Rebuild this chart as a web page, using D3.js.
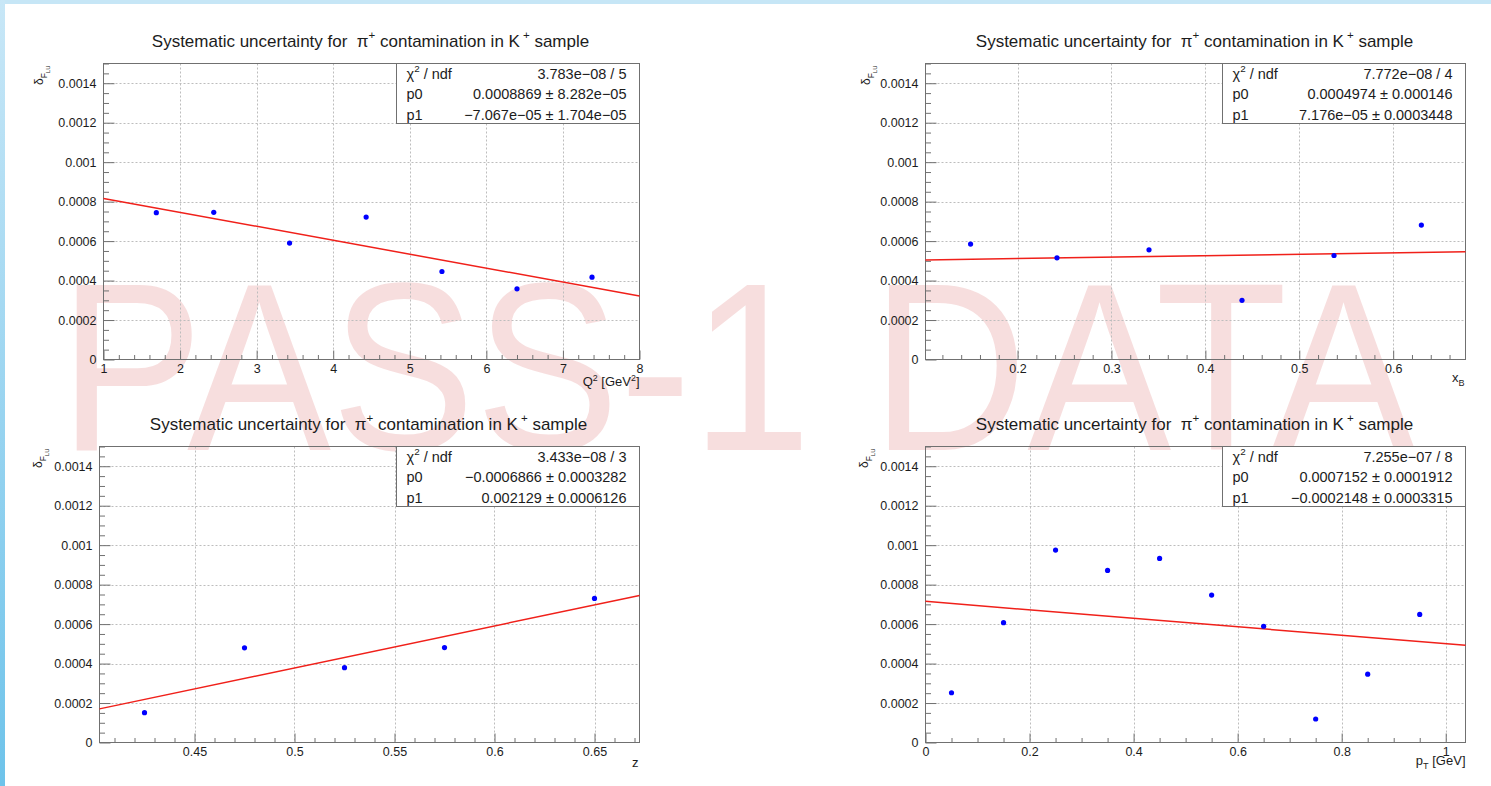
<!DOCTYPE html>
<html>
<head>
<meta charset="utf-8">
<script src="https://cdn.jsdelivr.net/npm/d3@7"></script>
<style>
  html, body { margin: 0; padding: 0; background: #ffffff; overflow: hidden; }
  svg { display: block; }
</style>
</head>
<body>
<svg id="canvas" width="1491" height="786"></svg>
<script>
// ---- data: delta_FLU systematic vs. each kinematic variable ----
const q2X = [1.69, 2.44, 3.43, 4.43, 5.42, 6.40, 7.38];
const q2Y = [0.000744, 0.000746, 0.000590, 0.000722, 0.000446, 0.000358, 0.000417];

const xbX = [0.150, 0.242, 0.340, 0.439, 0.537, 0.630];
const xbY = [0.000585, 0.000515, 0.000556, 0.000300, 0.000527, 0.000681];

const zX = [0.425, 0.475, 0.525, 0.575, 0.650];
const zY = [0.000151, 0.000480, 0.000379, 0.000481, 0.000730];

const ptX = [0.05, 0.15, 0.25, 0.35, 0.45, 0.55, 0.65, 0.75, 0.85, 0.95];
const ptY = [0.000252, 0.000607, 0.000975, 0.000872, 0.000933, 0.000747, 0.000589, 0.000119, 0.000346, 0.000649];

// linear fit results (pol1: p0 + p1*x), one entry per panel
const fitP0 = [0.0008869, 0.0004974, -0.0006866, 0.0007152];
const fitP1 = [-7.067e-05, 7.176e-05, 0.002129, -0.0002148];
const statChi2 = ['3.783e\u221208 / 5', '7.772e\u221208 / 4', '3.433e\u221208 / 3', '7.255e\u221207 / 8'];
const statP0 = ['0.0008869 \u00b1 8.282e\u221205', '0.0004974 \u00b1 0.000146',
                '\u22120.0006866 \u00b1 0.0003282', '0.0007152 \u00b1 0.0001912'];
const statP1 = ['\u22127.067e\u221205 \u00b1 1.704e\u221205', '7.176e\u221205 \u00b1 0.0003448',
                '0.002129 \u00b1 0.0006126', '\u22120.0002148 \u00b1 0.0003315'];

// axis ranges and ticks
const yRange = [0, 0.0015];
const yTicks = [0, 0.0002, 0.0004, 0.0006, 0.0008, 0.001, 0.0012, 0.0014];
const yTickLabels = ['0', '0.0002', '0.0004', '0.0006', '0.0008', '0.001', '0.0012', '0.0014'];
const q2Range = [1, 8];
const q2Ticks = [1, 2, 3, 4, 5, 6, 7, 8];
const q2TickLabels = ['1', '2', '3', '4', '5', '6', '7', '8'];
const xbRange = [0.102, 0.677];
const xbTicks = [0.2, 0.3, 0.4, 0.5, 0.6];
const xbTickLabels = ['0.2', '0.3', '0.4', '0.5', '0.6'];
const zRange = [0.4025, 0.6725];
const zTicks = [0.45, 0.5, 0.55, 0.6, 0.65];
const zTickLabels = ['0.45', '0.5', '0.55', '0.6', '0.65'];
const ptRange = [0, 1.038];
const ptTicks = [0, 0.2, 0.4, 0.6, 0.8, 1];
const ptTickLabels = ['0', '0.2', '0.4', '0.6', '0.8', '1'];

// ---- drawing ----
const FONT = '"Liberation Sans", Arial, Helvetica, sans-serif';
const svg = d3.select('#canvas').attr('font-family', FONT);

// light blue canvas edges
const defs = svg.append('defs');
const edge = defs.append('linearGradient').attr('id', 'edgeGrad')
  .attr('x1', 0).attr('y1', 0).attr('x2', 0).attr('y2', 1);
edge.append('stop').attr('offset', 0).attr('stop-color', '#c8e7f7');
edge.append('stop').attr('offset', 1).attr('stop-color', '#6ec3ea');
svg.append('rect').attr('x', 0).attr('y', 0).attr('width', 1491).attr('height', 4).attr('fill', '#c6e6f6');
svg.append('rect').attr('x', 0).attr('y', 0).attr('width', 5).attr('height', 786).attr('fill', 'url(#edgeGrad)');

// watermark
svg.append('text')
  .attr('transform', 'translate(59,450) scale(0.9,1)')
  .attr('font-size', 240)
  .attr('fill', 'rgb(200,20,20)')
  .attr('fill-opacity', 0.14)
  .text('PASS-1 DATA');

// text with super/subscripts
function rich(textSel, parts, fs) {
  let shift = 0;
  parts.forEach(([t, kind, dx]) => {
    let target = 0, size = fs;
    if (kind === 'sup') { target = -fs * 0.42; size = fs * 0.68; }
    if (kind === 'sub') { target = fs * 0.3; size = fs * 0.7; }
    if (kind === 'subsub') { target = fs * 0.55; size = fs * 0.5; }
    textSel.append('tspan')
      .attr('dy', target - shift)
      .attr('dx', dx || 0)
      .attr('font-size', size)
      .text(t);
    shift = target;
  });
  return textSel;
}

function minorValues(domain, step, majors) {
  const out = [];
  const k0 = Math.ceil(domain[0] / step - 1e-6), k1 = Math.floor(domain[1] / step + 1e-6);
  for (let k = k0; k <= k1; k++) {
    const v = +(k * step).toFixed(8);
    if (!majors.some(m => Math.abs(m - v) < step * 1e-3)) out.push(v);
  }
  return out;
}

function drawPanel(p) {
  const g = svg.append('g');
  const x = d3.scaleLinear().domain(p.xRange).range([p.L, p.R]);
  const y = d3.scaleLinear().domain(yRange).range([p.B, p.T]);

  // grid
  const gridStyle = s => s.attr('stroke', '#bdbdbd').attr('stroke-width', 1).attr('stroke-dasharray', '2,2');
  g.append('g').selectAll('line')
    .data(p.xTicks.filter(v => x(v) > p.L + 2 && x(v) < p.R - 2))
    .join('line')
    .attr('x1', d => Math.round(x(d)) + 0.5).attr('x2', d => Math.round(x(d)) + 0.5)
    .attr('y1', p.T).attr('y2', p.B)
    .call(gridStyle);
  g.append('g').selectAll('line')
    .data(yTicks.filter(v => v > 0))
    .join('line')
    .attr('x1', p.L).attr('x2', p.R)
    .attr('y1', d => Math.round(y(d)) + 0.5).attr('y2', d => Math.round(y(d)) + 0.5)
    .call(gridStyle);

  // axes (ticks pointing into the frame)
  const styleAxis = a => {
    a.select('.domain').remove();
    a.selectAll('line').attr('stroke', '#707070');
    a.selectAll('text').attr('fill', '#1c1c1c').attr('font-size', 12.5).attr('font-family', FONT);
    a.attr('font-family', FONT);
  };
  g.append('g').attr('transform', `translate(0,${p.B})`)
    .call(d3.axisBottom(x).tickValues(minorValues(p.xRange, p.xMinor, p.xTicks)).tickFormat('')
      .tickSizeInner(-4.5).tickSizeOuter(0))
    .call(styleAxis);
  g.append('g').attr('transform', `translate(0,${p.B})`)
    .call(d3.axisBottom(x).tickValues(p.xTicks).tickFormat((d, i) => p.xLabels[i])
      .tickSizeInner(-9).tickSizeOuter(0).tickPadding(4.5))
    .call(styleAxis);
  g.append('g').attr('transform', `translate(${p.L},0)`)
    .call(d3.axisLeft(y).tickValues(minorValues(yRange, 0.00005, yTicks)).tickFormat('')
      .tickSizeInner(-5.5).tickSizeOuter(0))
    .call(styleAxis);
  g.append('g').attr('transform', `translate(${p.L},0)`)
    .call(d3.axisLeft(y).tickValues(yTicks).tickFormat((d, i) => yTickLabels[i])
      .tickSizeInner(-11).tickSizeOuter(0).tickPadding(7))
    .call(styleAxis);

  // frame
  g.append('rect')
    .attr('x', p.L).attr('y', p.T).attr('width', p.R - p.L).attr('height', p.B - p.T)
    .attr('fill', 'none').attr('stroke', '#707070').attr('stroke-width', 1);

  // fit line
  const f = x0 => fitP0[p.i] + fitP1[p.i] * x0;
  g.append('path')
    .datum(p.xRange)
    .attr('d', d3.line().x(d => x(d)).y(d => y(f(d))))
    .attr('fill', 'none').attr('stroke', '#f0201a').attr('stroke-width', 1.5);

  // data points
  g.append('g').selectAll('circle')
    .data(p.xs.map((v, i) => [v, p.ys[i]]))
    .join('circle')
    .attr('cx', d => x(d[0])).attr('cy', d => y(d[1])).attr('r', 2.6)
    .attr('fill', '#0000ff');

  // fit statistics box
  const bx = p.boxL, bh = 60;
  g.append('rect')
    .attr('x', bx).attr('y', p.T).attr('width', p.R - bx).attr('height', bh)
    .attr('fill', '#ffffff').attr('stroke', '#707070').attr('stroke-width', 1);
  const rows = [statChi2[p.i], statP0[p.i], statP1[p.i]];
  const names = [[['\u03c7', null], ['2', 'sup'], [' / ndf', null]], [['p0', null]], [['p1', null]]];
  rows.forEach((r, k) => {
    const yy = p.T + 15 + k * 20.5;
    rich(g.append('text').attr('x', bx + 10).attr('y', yy).attr('font-size', 14.5)
      .attr('fill', '#1c1c1c').style('white-space', 'pre'), names[k], 14.5);
    g.append('text').attr('x', p.R - 13).attr('y', yy).attr('font-size', 14.5)
      .attr('text-anchor', 'end').attr('fill', '#1c1c1c').style('white-space', 'pre').text(r);
  });

  // title
  rich(g.append('text')
      .attr('x', (p.L + p.R) / 2 - 1).attr('y', p.T - 17)
      .attr('text-anchor', 'middle').attr('font-size', 17)
      .attr('fill', '#1c1c1c').style('white-space', 'pre'),
    [['Systematic uncertainty for  ', null], ['\u03c0', null], ['+', 'sup'],
     [' contamination in K', null], ['+', 'sup', 3], [' sample', null]], 17);

  // y-axis title
  rich(g.append('text')
      .attr('transform', `translate(${p.yTitleX},${p.T + 2}) rotate(-90)`)
      .attr('text-anchor', 'end').attr('font-size', 12).attr('fill', '#1c1c1c'),
    [['\u03b4', null], ['F', 'sub'], ['LU', 'subsub']], 12);

  // x-axis title
  rich(g.append('text')
      .attr('x', p.R - p.xTitleInset).attr('y', p.xTitleY)
      .attr('text-anchor', 'end').attr('font-size', 13).attr('fill', '#1c1c1c')
      .style('white-space', 'pre'),
    p.xTitle, 13);
}

drawPanel({ i: 0, L: 103.5, R: 639.5, T: 63.5, B: 359.5, xRange: q2Range, xTicks: q2Ticks,
  xLabels: q2TickLabels, xMinor: 0.2, xs: q2X, ys: q2Y, boxL: 396.5, yTitleX: 43,
  xTitle: [['Q', null], ['2', 'sup'], [' [GeV', null], ['2', 'sup'], [']', null]],
  xTitleInset: 0, xTitleY: 386 });

drawPanel({ i: 1, L: 925.5, R: 1465.5, T: 63.5, B: 359.5, xRange: xbRange, xTicks: xbTicks,
  xLabels: xbTickLabels, xMinor: 0.02, xs: xbX, ys: xbY, boxL: 1222.5, yTitleX: 870,
  xTitle: [['x', null], ['B', 'sub']], xTitleInset: 1, xTitleY: 382 });

drawPanel({ i: 2, L: 99.5, R: 639.5, T: 446.5, B: 742.5, xRange: zRange, xTicks: zTicks,
  xLabels: zTickLabels, xMinor: 0.01, xs: zX, ys: zY, boxL: 396.5, yTitleX: 42,
  xTitle: [['z', null]], xTitleInset: 1, xTitleY: 767 });

drawPanel({ i: 3, L: 925.5, R: 1465.5, T: 446.5, B: 742.5, xRange: ptRange, xTicks: ptTicks,
  xLabels: ptTickLabels, xMinor: 0.05, xs: ptX, ys: ptY, boxL: 1222.5, yTitleX: 868,
  xTitle: [['p', null], ['T', 'sub'], [' [GeV]', null]], xTitleInset: 0, xTitleY: 765 });
</script>
</body>
</html>
